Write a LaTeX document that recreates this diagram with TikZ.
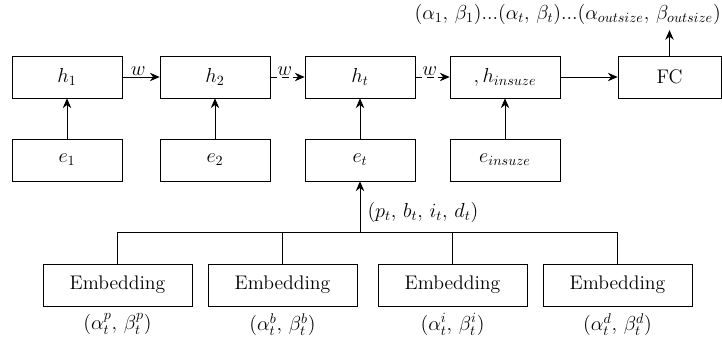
\documentclass[tikz,border=0pt]{standalone}
\usepackage{amsmath}
\usetikzlibrary{arrows,arrows.meta,positioning,calc}

\begin{document}
\begin{tikzpicture}[
    x=0.025cm, y=-0.025cm,
    % Node styles
    cell/.style={draw, rectangle, minimum width=2.75cm, minimum height=1.05cm, inner sep=0pt, font=\fontsize{14}{16}\selectfont},
    fcbox/.style={cell, minimum width=2.575cm},
    embed/.style={cell, minimum width=3.725cm},
    lbl/.style={font=\fontsize{14}{16}\selectfont, inner sep=2pt},
    edge/.style={-{Stealth[length=7pt,width=6pt]}, line width=0.7pt, draw=black},
    recur/.style={edge, dash pattern=on 5pt off 3pt},
    wire/.style={line width=0.7pt, draw=black},
]
\useasboundingbox (0,0) rectangle (722,348);

% ============================================================
% Hidden states
% ============================================================
\node[cell] (h1) at (67, 77) {$h_1$};
\node[cell] (h2) at (215, 77) {$h_2$};
\node[cell] (ht) at (360, 77) {$h_t$};
\node[cell] (hin) at (505, 77) {$,h_{insuze}$};
\node[fcbox] (fc) at (669.5, 77) {FC};

% ============================================================
% Inputs
% ============================================================
\node[cell] (e1) at (67, 160) {$e_1$};
\node[cell] (e2) at (215, 160) {$e_2$};
\node[cell] (et) at (360, 160) {$e_t$};
\node[cell] (ein) at (505, 160) {$e_{insuze}$};

% ============================================================
% Embeddings
% ============================================================
\node[embed, label={[lbl, label distance=3pt]below:$(\alpha_t^p,\,\beta_t^p)$}] (embp) at (117.5, 285) {Embedding};
\node[embed, label={[lbl, label distance=3pt]below:$(\alpha_t^b,\,\beta_t^b)$}] (embb) at (282.5, 285) {Embedding};
\node[embed, label={[lbl, label distance=3pt]below:$(\alpha_t^i,\,\beta_t^i)$}] (embi) at (452.5, 285) {Embedding};
\node[embed, label={[lbl, label distance=3pt]below:$(\alpha_t^d,\,\beta_t^d)$}] (embd) at (617.5, 285) {Embedding};

% ============================================================
% Output
% ============================================================
\node[lbl, anchor=east, inner sep=0pt] (out) at (721, 14) {$(\alpha_1,\,\beta_1)...(\alpha_t,\,\beta_t)...(\alpha_{outsize},\,\beta_{outsize})$};
\coordinate (outtip) at (fc.north |- 0,30);

% ============================================================
% Edges
% ============================================================
\draw[edge] (h1) -- node[lbl, above, inner sep=1pt, xshift=-2pt] {$w$} (h2);
\draw[recur] (h2) -- node[lbl, above, inner sep=1pt, xshift=-2pt] {$w$} (ht);
\draw[recur] (ht) -- node[lbl, above, inner sep=1pt, xshift=-2pt] {$w$} (hin);
\draw[edge] (hin) -- (fc);
\draw[edge] (fc) -- (outtip);

\draw[edge] (e1) -- (h1);
\draw[edge] (e2) -- (h2);
\draw[edge] (et) -- (ht);
\draw[edge] (ein) -- (hin);

\coordinate (split) at (et.south |- 0,232.5);
\draw[wire] (embp.north) |- (embd.north |- split) -- (embd.north);
\draw[wire] (embb.north) -- (embb.north |- split);
\draw[wire] (embi.north) -- (embi.north |- split);
\draw[edge] (split) -- node[lbl, right, pos=0.4, xshift=3pt] {$(p_t,\,b_t,\,i_t,\,d_t)$} (et);

\end{tikzpicture}
\end{document}
